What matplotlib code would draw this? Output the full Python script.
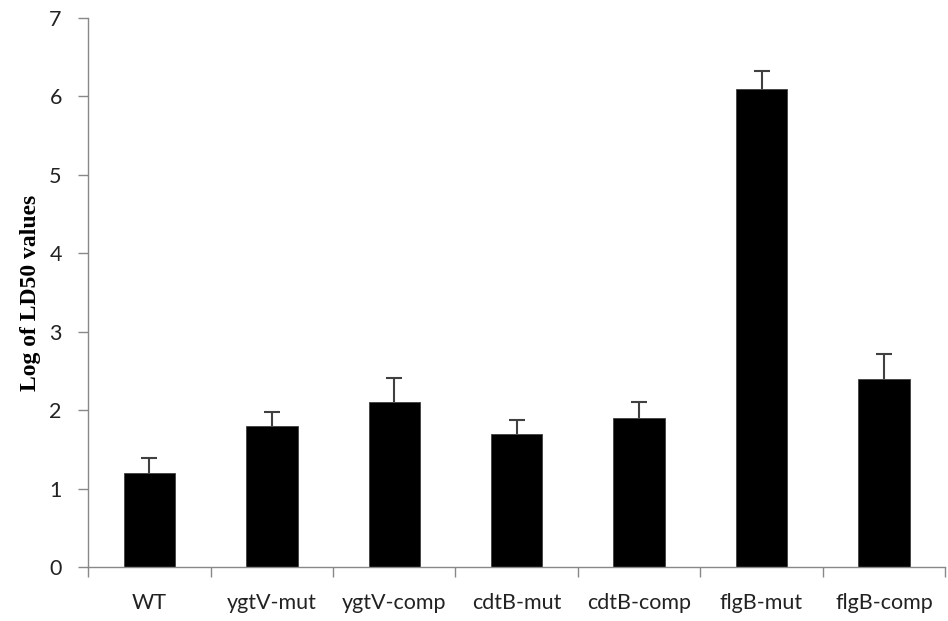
import matplotlib.pyplot as plt
import numpy as np

strains = ["WT", "ygtV-mut", "ygtV-comp", "cdtB-mut", "cdtB-comp", "flgB-mut", "flgB-comp"]
ld50_log = [1.2, 1.8, 2.1, 1.7, 1.9, 6.1, 2.4]
ld50_err = [0.19, 0.18, 0.31, 0.17, 0.2, 0.23, 0.31]

fig = plt.figure(figsize=(9.48, 6.21), dpi=100)
ax = fig.add_axes([0.093, 0.087, 0.904, 0.884])

x = np.arange(len(strains))
ax.bar(x, ld50_log, width=0.42, color="black", edgecolor="#404040", linewidth=0.6,
       zorder=2)
# only the upper half of the error bar is shown
eb = ax.errorbar(x, ld50_log, yerr=[np.zeros(len(x)), ld50_err], fmt="none",
                 ecolor="#404040", elinewidth=1.5, capsize=5.5, capthick=1.5, zorder=1)
for cap in eb[1]:
    if np.allclose(cap.get_ydata(), ld50_log):
        cap.set_visible(False)

ax.set_xlim(-0.5, len(strains) - 0.5)
ax.set_ylim(0, 7)
ax.set_yticks(range(8))
ax.set_xticks(x)
ax.set_xticklabels(strains)
ax.set_xticks(np.arange(len(strains) + 1) - 0.5, minor=True)

for lab in ax.get_xticklabels() + ax.get_yticklabels():
    lab.set_fontfamily("Lato")
    lab.set_fontsize(15.5)
    lab.set_color("#222222")

ax.tick_params(axis="x", which="major", length=0, pad=19)
ax.tick_params(axis="x", which="minor", length=7, color="#888888", width=1)
ax.tick_params(axis="y", length=7, color="#888888", width=1, pad=12)

for side in ["top", "right"]:
    ax.spines[side].set_visible(False)
for side in ["left", "bottom"]:
    ax.spines[side].set_color("#888888")
    ax.spines[side].set_linewidth(1)

ax.set_ylabel("Log of LD50 values", fontfamily="Liberation Serif", fontweight="bold",
              fontsize=17, labelpad=6)

plt.savefig("out.png", dpi=100)
